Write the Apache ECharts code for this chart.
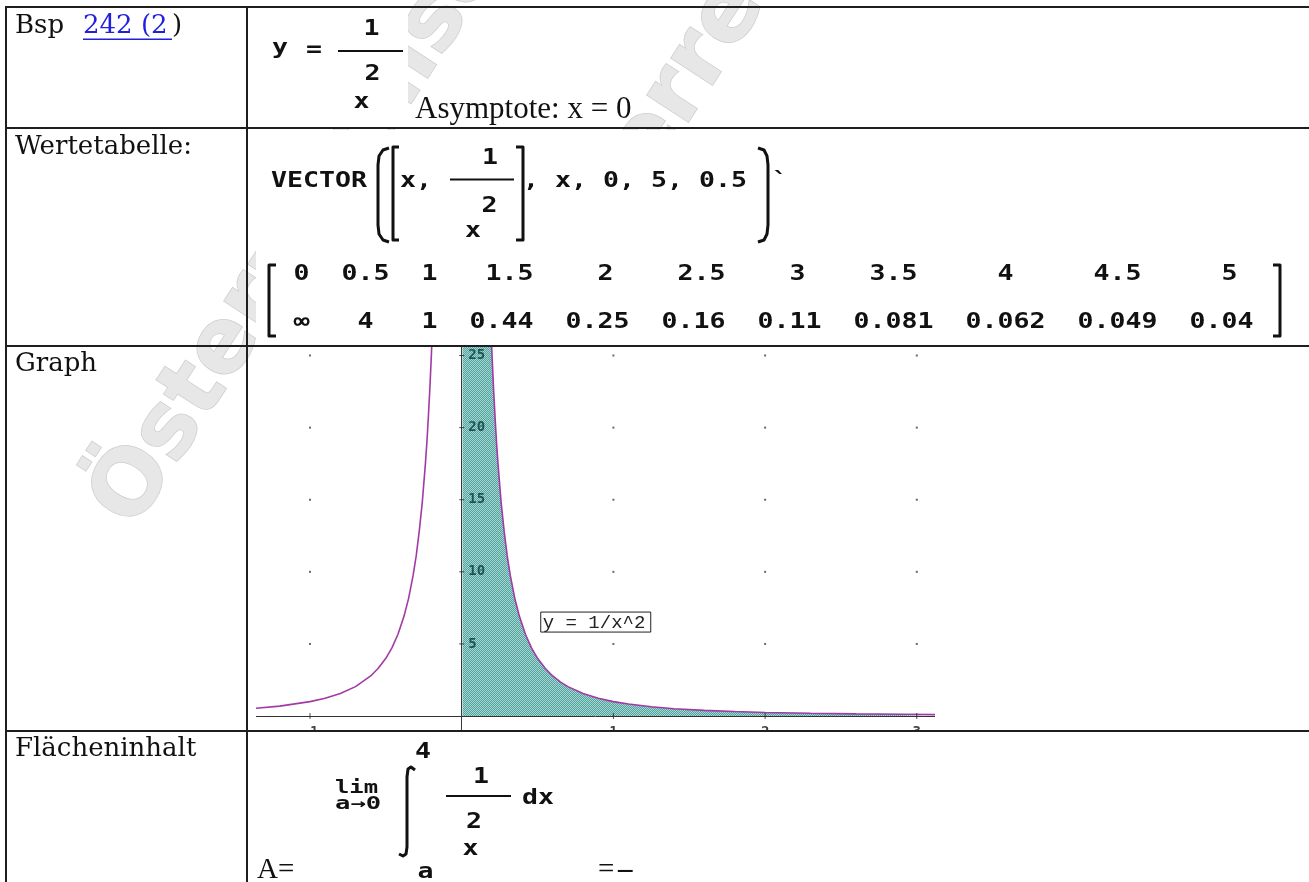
<!DOCTYPE html>
<html>
<head>
<meta charset="utf-8">
<script src="https://cdn.jsdelivr.net/npm/echarts@6.0.0/dist/echarts.min.js"></script>
<style>
  html, body { margin: 0; padding: 0; background: #fff; overflow: hidden; }
  #page  { position: absolute; left: 0; top: 0; width: 1309px; height: 882px; }
  #graph { position: absolute; left: 256px; top: 347px; width: 679px; height: 383px; }
</style>
</head>
<body>
<div id="page"></div>
<div id="graph"></div>
<script>
// ---- value table of y = 1/x^2 ----
const tableX = ['0', '0.5', '1', '1.5', '2', '2.5', '3', '3.5', '4', '4.5', '5'];
const tableY = ['∞', '4', '1', '0.44', '0.25', '0.16', '0.11', '0.081', '0.062', '0.049', '0.04'];

// ---- sampled points of the two branches ----
const leftX  = [-1.356, -1.2, -1.0, -0.9, -0.8, -0.7, -0.6, -0.55, -0.5, -0.46, -0.42, -0.38, -0.35, -0.32, -0.3, -0.28, -0.26, -0.24, -0.23, -0.22, -0.21, -0.2, -0.19];
const leftY  = [0.54, 0.69, 1.00, 1.23, 1.56, 2.04, 2.78, 3.31, 4.00, 4.73, 5.67, 6.93, 8.16, 9.77, 11.1, 12.8, 14.8, 17.4, 18.9, 20.7, 22.7, 25.0, 27.7];
const rightX = [0.005, 0.02, 0.05, 0.1, 0.15, 0.18, 0.19, 0.2, 0.21, 0.22, 0.23, 0.24, 0.26, 0.28, 0.3, 0.32, 0.35, 0.38, 0.42, 0.46, 0.5, 0.55, 0.6, 0.65, 0.7, 0.8, 0.9, 1.0, 1.1, 1.25, 1.4, 1.6, 1.8, 2.0, 2.3, 2.6, 2.9, 3.12];
const rightY = [40000, 2500, 400, 100, 44.4, 30.9, 27.7, 25.0, 22.7, 20.7, 18.9, 17.4, 14.8, 12.8, 11.1, 9.77, 8.16, 6.93, 5.67, 4.73, 4.00, 3.31, 2.78, 2.37, 2.04, 1.56, 1.23, 1.00, 0.83, 0.64, 0.51, 0.39, 0.31, 0.25, 0.19, 0.15, 0.12, 0.10];

// ---- axis ticks of the plot ----
const xTicks = [-1, 1, 2, 3];
const yTicks = [5, 10, 15, 20, 25];
const xRange = [-1.356, 3.12];
const yRange = [-0.968, 25.59];

// =====================================================================
// Page: table frame, labels and Derive-style formulas
// =====================================================================
const INK = '#111';
const LINE = '#1e1e1e';
const MONO_SIZE = 21;
const MONO = 'bold ' + MONO_SIZE + 'px "DejaVu Sans Mono"';
const PITCH = 16;
const SX = PITCH / (0.602 * MONO_SIZE);

const els = [];

function hline(y, x1, x2, w) {
  els.push({ type: 'line', z: 10, shape: { x1: x1, y1: y, x2: x2, y2: y }, style: { stroke: LINE, lineWidth: w || 2 } });
}
function vline(x, y1, y2, w) {
  els.push({ type: 'line', z: 10, shape: { x1: x, y1: y1, x2: x, y2: y2 }, style: { stroke: LINE, lineWidth: w || 2 } });
}
function bar(x1, x2, y) {
  els.push({ type: 'rect', z: 10, shape: { x: x1, y: y - 1, width: x2 - x1, height: 2 }, style: { fill: INK } });
}
function poly(points, w) {
  els.push({ type: 'polyline', z: 10, shape: { points: points }, style: { stroke: INK, fill: null, lineWidth: w || 3, lineJoin: 'round' } });
}
function mono(str, x, cy, align) {
  els.push({ type: 'text', z: 10, x: x, y: cy, scaleX: SX,
    style: { text: str, font: MONO, fill: INK, textAlign: align || 'left', textVerticalAlign: 'middle' } });
}
function serif(str, left, baseline, size, family, fill, weight) {
  const k = family === 'Liberation Serif' ? 0.3375 : 0.346;
  els.push({ type: 'text', z: 10, x: left, y: baseline - k * size,
    style: { text: str, font: (weight || 'normal') + ' ' + size + 'px "' + family + '"', fill: fill || INK, textVerticalAlign: 'middle' } });
}
function cover(x, y, w, h) {
  els.push({ type: 'rect', z: 2, shape: { x: x, y: y, width: w, height: h }, style: { fill: '#fff' } });
}
function watermark(x, y) {
  els.push({ type: 'text', z: 1, x: x, y: y, rotation: 57 * Math.PI / 180,
    style: { text: 'Österreichisches', font: 'bold 90px "DejaVu Sans"', fill: '#e7e7e7', stroke: '#cdcdcd', lineWidth: 1.5,
      textAlign: 'left', textVerticalAlign: 'middle', shadowBlur: 2, shadowColor: 'rgba(0,0,0,0.15)', shadowOffsetX: 1, shadowOffsetY: 1 } });
}

// faint embossed watermark lettering, repeated diagonally
watermark(114, 518);
watermark(537, 312);

// formula images are opaque
cover(258, 9, 150, 118);
cover(256, 130, 1053, 214);
cover(256, 733, 1053, 149);

// table frame
hline(7, 5, 1309);
hline(128, 5, 1309);
hline(346, 5, 1309);
hline(731, 5, 1309);
vline(6, 6, 882);
vline(247, 6, 882);

// left column captions
const CAP = 'DejaVu Serif';
serif('Bsp', 15, 35, 26, CAP);
serif('242 (2', 83, 35, 26, CAP, '#1f1fdc');
els.push({ type: 'rect', z: 10, shape: { x: 83, y: 38.5, width: 89, height: 1.5 }, style: { fill: '#1f1fdc' } });
serif(')', 172, 35, 26, CAP);
serif('Wertetabelle:', 15, 156, 26, CAP);
serif('Graph', 15, 373, 26, CAP);
serif('Flächeninhalt', 15, 758, 26, CAP);

// row 1: y = 1 / x^2
mono('y', 280, 49, 'center');
mono('=', 314, 51, 'center');
bar(338, 403, 51);
mono('1', 371.5, 30, 'center');
mono('2', 372.5, 75, 'center');
mono('x', 361.5, 103, 'center');
serif('Asymptote: x = 0', 415, 120, 31, 'Liberation Serif');

// row 2: VECTOR([x, 1/x^2], x, 0, 5, 0.5)`
mono('VECTOR', 271, 182);
poly([[389, 148], [383, 150], [379, 156], [378, 165], [378, 225], [379, 234], [383, 240], [389, 242]]);
poly([[399, 147], [393, 147], [393, 240], [399, 240]]);
mono('x,', 400, 182);
mono('1', 490, 159, 'center');
bar(450, 514, 179.5);
mono('2', 489.5, 207, 'center');
mono('x', 473, 232, 'center');
poly([[516, 147], [523, 147], [523, 240], [516, 240]]);
mono(', x, 0, 5, 0.5', 523, 182);
poly([[758, 148], [764, 150], [767, 156], [768, 165], [768, 225], [767, 234], [764, 240], [758, 242]]);
mono('`', 772, 182);

// transposed value matrix: every column padded like Derive does
(function () {
  const GAP = 2;
  let row1 = '', row2 = '';
  for (let i = 0; i < tableX.length; i++) {
    const w = Math.max(tableX[i].length, tableY[i].length);
    const cell = function (s) {
      const pre = Math.ceil((w - s.length) / 2);
      return ' '.repeat(pre) + s + ' '.repeat(w - s.length - pre);
    };
    const sep = i ? ' '.repeat(GAP) : '';
    row1 += sep + cell(tableX[i]);
    row2 += sep + cell(tableY[i]);
  }
  mono(row1, 293.5, 274.5);
  mono(row2, 293.5, 322.5);
})();
poly([[276, 265], [269, 265], [269, 336], [276, 336]]);
poly([[1273, 265], [1280, 265], [1280, 336], [1273, 336]]);

// row 4: lim a->0 of the integral from a to 4 of 1/x^2 dx
mono('4', 423, 752.5, 'center');
els.push({ type: 'text', z: 10, x: 335, y: 789, scaleX: 1.4, style: { text: 'lim', font: 'bold 17px "DejaVu Sans Mono"', fill: INK, textVerticalAlign: 'middle' } });
els.push({ type: 'text', z: 10, x: 335, y: 805, scaleX: 1.5, style: { text: 'a→0', font: 'bold 17px "DejaVu Sans Mono"', fill: INK, textVerticalAlign: 'middle' } });
poly([[415, 770], [411, 767], [408, 769], [407, 777], [407, 847], [406, 854], [403, 856], [399, 854]]);
mono('1', 481, 777.5, 'center');
bar(446, 511, 796);
mono('dx', 522, 799);
mono('2', 474, 822.5, 'center');
mono('x', 470.5, 850, 'center');
mono('a', 425.5, 872.5, 'center');
serif('A=', 257, 880, 29, 'Liberation Serif');
serif('=', 598, 880, 29, 'Liberation Serif');
serif('–', 618, 880, 29, 'Liberation Serif', INK, 'bold');

const page = echarts.init(document.getElementById('page'));
page.setOption({ animation: false, graphic: { elements: els } });

// =====================================================================
// Graph of y = 1/x^2 with the shaded area for x > 0
// =====================================================================
const dither = document.createElement('canvas');
dither.width = 2; dither.height = 2;
(function () {
  const c = dither.getContext('2d');
  c.fillStyle = '#a6d6d2'; c.fillRect(0, 0, 2, 2);
  c.fillStyle = '#52a29e'; c.fillRect(0, 0, 1, 1); c.fillRect(1, 1, 1, 1);
})();

const zip = function (xs, ys) { return xs.map(function (x, i) { return [x, ys[i]]; }); };
const gridDots = [];
xTicks.forEach(function (x) { yTicks.forEach(function (y) { gridDots.push([x, y]); }); });

const CURVE = '#a23aa6';
const TICK_FONT = { fontFamily: 'DejaVu Sans Mono', fontSize: 14, fontWeight: 'bold' };
const graph = echarts.init(document.getElementById('graph'));
graph.setOption({
  animation: false,
  backgroundColor: '#fff',
  grid: { left: 0, right: 0, top: 0, bottom: 0 },
  xAxis: {
    type: 'value', min: xRange[0], max: xRange[1], z: 5,
    axisLine: { onZero: true, lineStyle: { color: '#333', width: 1 } },
    axisTick: { show: false }, axisLabel: { show: false }, splitLine: { show: false }
  },
  yAxis: {
    type: 'value', min: yRange[0], max: yRange[1], z: 5,
    axisLine: { onZero: true, lineStyle: { color: '#3a3a3a', width: 1 } },
    axisTick: { show: false }, axisLabel: { show: false }, splitLine: { show: false }
  },
  series: [
    {
      name: 'x<0', type: 'line', data: zip(leftX, leftY), symbol: 'none', clip: true,
      lineStyle: { color: CURVE, width: 1.6 }
    },
    {
      name: 'x>0', type: 'line', data: zip(rightX, rightY), symbol: 'none', clip: true,
      lineStyle: { color: CURVE, width: 1.6 },
      areaStyle: { color: { image: dither, repeat: 'repeat' }, opacity: 1, origin: 'auto' }
    },
    {
      name: 'grid', type: 'scatter', data: gridDots, symbol: 'rect', symbolSize: 2,
      itemStyle: { color: '#444' }, silent: true
    },
    {
      name: 'xticks', type: 'scatter', data: xTicks.map(function (v) { return [v, 0]; }),
      symbol: 'rect', symbolSize: [1, 6], itemStyle: { color: '#222' }, z: 6,
      label: Object.assign({ show: true, position: 'bottom', distance: 6, color: '#111',
        formatter: function (p) { return String(p.value[0]); } }, TICK_FONT)
    },
    {
      name: 'yticks', type: 'scatter', data: yTicks.map(function (v) { return [0, v]; }),
      symbol: 'rect', symbolSize: [5, 1], itemStyle: { color: '#222' }, z: 6,
      label: Object.assign({ show: true, position: 'right', distance: 4, color: '#0b3838',
        formatter: function (p) { return String(p.value[1]); } }, TICK_FONT)
    }
  ]
});

// curve caption box anchored in data coordinates
const anchor = graph.convertToPixel({ gridIndex: 0 }, [0.521, 7.21]);
graph.setOption({
  graphic: [{
    type: 'group', x: anchor[0], y: anchor[1], z: 20,
    children: [
      { type: 'rect', shape: { x: 0, y: 0, width: 110, height: 20 }, style: { fill: '#fff', stroke: '#222', lineWidth: 1 } },
      { type: 'text', x: 2, y: 11, style: { text: 'y = 1/x^2', font: '19px "Liberation Mono"', fill: '#222', textVerticalAlign: 'middle' } }
    ]
  }]
});
</script>
</body>
</html>
